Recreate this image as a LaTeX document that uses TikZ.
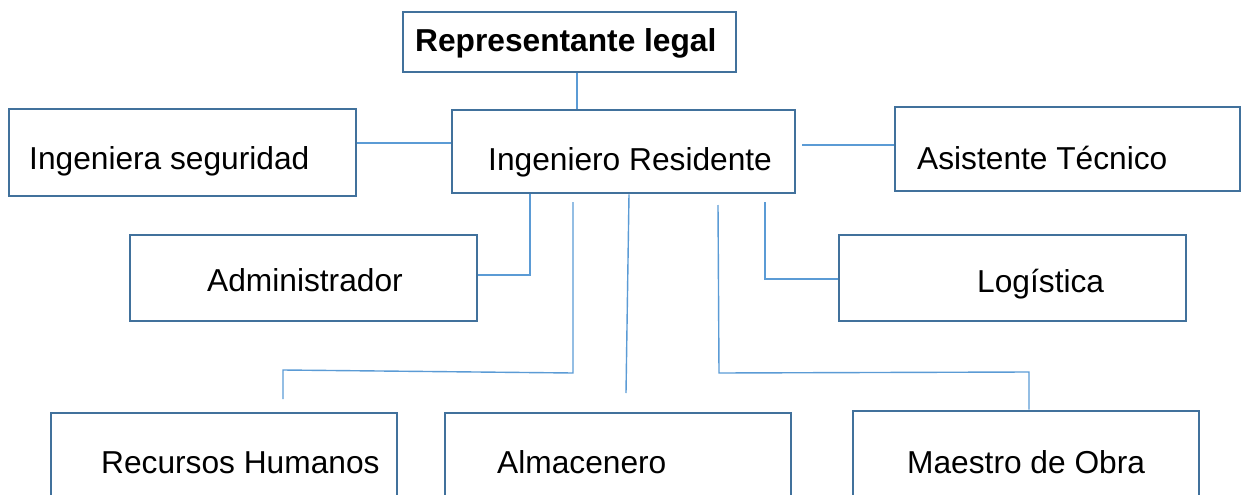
\documentclass[tikz,border=0pt]{standalone}
\usepackage{fontspec}
\setmainfont{Liberation Sans}
\definecolor{boxline}{HTML}{41719C}
\definecolor{conline}{HTML}{5B9BD5}
\tikzset{
  orgbox/.style={draw=boxline, line width=2.6pt, fill=white, inner sep=0pt, rectangle},
  orgtxt/.style={anchor=base west, inner sep=0pt, font=\fontsize{31.7}{38}\selectfont},
  conn/.style={draw=conline, line width=1.4pt}
}
\begin{document}
\begin{tikzpicture}[x=1pt,y=-1pt]
\useasboundingbox (0,0) rectangle (1242,495);
\clip (0,0) rectangle (1242,495);
% boxes
\node[orgbox, minimum width=333pt, minimum height=60pt] (rep) at (569.5,42) {};
\node[orgbox, minimum width=343pt, minimum height=83pt] (ir) at (623.5,151.5) {};
\node[orgbox, minimum width=347pt, minimum height=87pt] (is) at (182.5,152.5) {};
\node[orgbox, minimum width=345pt, minimum height=84pt] (at) at (1067.5,149) {};
\node[orgbox, minimum width=347pt, minimum height=86pt] (adm) at (303.5,278) {};
\node[orgbox, minimum width=347pt, minimum height=86pt] (log) at (1012.5,278) {};
\node[orgbox, minimum width=346pt, minimum height=130pt] (rh) at (224,478) {};
\node[orgbox, minimum width=346pt, minimum height=130pt] (alm) at (618,478) {};
\node[orgbox, minimum width=346pt, minimum height=130pt] (mo) at (1026,476) {};
% texts
\node[orgtxt, font=\fontsize{31.7}{38}\selectfont\bfseries] (trep) at (415,52) {Representante legal};
\node[orgtxt] (tir) at (488,170) {Ingeniero Residente};
\node[orgtxt] (tis) at (29,169) {Ingeniera seguridad};
\node[orgtxt] (tat) at (917,169) {Asistente Técnico};
\node[orgtxt] (tadm) at (207,291) {Administrador};
\node[orgtxt] (tlog) at (977,292) {Logística};
\node[orgtxt] (trh) at (101,473) {Recursos Humanos};
\node[orgtxt] (talm) at (497,473) {Almacenero};
\node[orgtxt] (tmo) at (907,473) {Maestro de Obra};
% connector coordinates
\coordinate (c1) at (577,0);
\coordinate (c2) at (0,143);
\coordinate (atstart) at (802,145);
\coordinate (a1) at (530,275);
\coordinate (l0) at (765,202);
\coordinate (l1) at (765,279);
\coordinate (r0) at (573,202);
\coordinate (r1) at (573,373);
\coordinate (r2) at (283,370);
\coordinate (r3) at (283,399);
\coordinate (m0) at (629,0);
\coordinate (m1) at (626,393);
\coordinate (o0) at (718,205);
\coordinate (o1) at (719,373);
\coordinate (o2) at (1029,372);
% connectors
\draw[conn] (rep.south -| c1) -- (ir.north -| c1);
\draw[conn] (is.east |- c2) -- (ir.west |- c2);
\draw[conn] (atstart) -- (at.west |- atstart);
\draw[conn] (ir.south -| a1) -- (a1) -- (adm.east |- a1);
\draw[conn] (l0) -- (l1) -- (log.west |- l1);
\draw[conn] (r0) -- (r1) -- (r2) -- (r3);
\draw[conn] (ir.south -| m0) -- (m1);
\draw[conn] (o0) -- (o1) -- (o2) -- (mo.north -| o2);
\end{tikzpicture}
\end{document}
